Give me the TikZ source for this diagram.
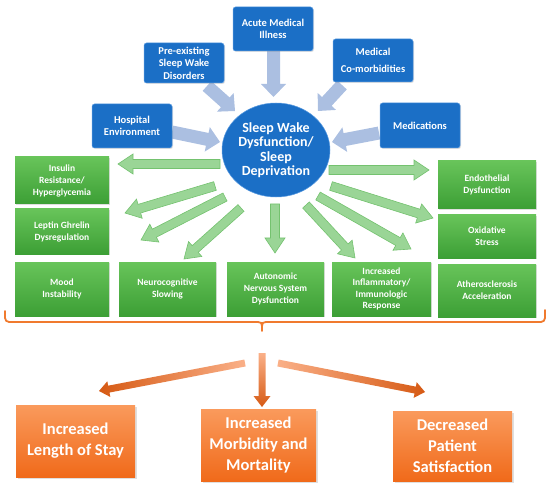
\documentclass[tikz,border=0pt]{standalone}
\usepackage{fontspec}
\setmainfont{Carlito}
\usetikzlibrary{calc,shapes.geometric,shadows}
\definecolor{cBlue}{HTML}{1B6FC6}
\definecolor{cBlueEdge}{HTML}{5A9BE0}
\definecolor{cBlueArr}{HTML}{ABBFE1}
\definecolor{cGreenTop}{HTML}{68C45A}
\definecolor{cGreenBot}{HTML}{3C9F35}
\definecolor{cGreenArr}{HTML}{9AD596}
\definecolor{cGreenArrEdge}{HTML}{74C26F}
\definecolor{cOrTop}{HTML}{FA9A5C}
\definecolor{cOrBot}{HTML}{F06A1A}
\definecolor{cBrace}{HTML}{F07A2E}
\definecolor{cOrArrLight}{HTML}{FAB088}
\definecolor{cOrArrDark}{HTML}{D65A14}
% #1 style, #2 start, #3 tip, #4 shaft half width, #5 head half width, #6 head length
\newcommand\fatarrow[6]{%
  \coordinate (fahb) at ($(#3)!#6!(#2)$);
  \path[#1] ($(#2)!#4!90:(#3)$) -- ($(fahb)!#4!90:(#3)$) -- ($(fahb)!#5!90:(#3)$) -- (#3)
    -- ($(fahb)!#5!-90:(#3)$) -- ($(fahb)!#4!-90:(#3)$) -- ($(#2)!#4!-90:(#3)$) -- cycle;
}
\begin{document}
\begin{tikzpicture}[x=1pt,y=-1pt,
  bluebox/.style={rectangle, rounded corners=2.5pt, fill=cBlue, draw=cBlueEdge, line width=0.5pt,
    text=white, font=\bfseries\fontsize{10.5}{12.5}\selectfont, align=center, inner sep=0pt,
    drop shadow={opacity=0.25, shadow xshift=1pt, shadow yshift=-1pt}},
  greenbox/.style={rectangle, top color=cGreenTop, bottom color=cGreenBot, draw=none,
    text=white, font=\bfseries\fontsize{9.5}{12}\selectfont, align=center, inner sep=0pt,
    drop shadow={opacity=0.25, shadow xshift=1pt, shadow yshift=-1pt}},
  orangebox/.style={rectangle, top color=cOrTop, bottom color=cOrBot, draw=none,
    text=white, font=\bfseries\fontsize{16.5}{21}\selectfont, align=center, inner sep=0pt,
    drop shadow={opacity=0.25, shadow xshift=1.5pt, shadow yshift=-1.5pt}},
  hub/.style={ellipse, fill=cBlue, draw=cBlueEdge, line width=0.5pt, text=white,
    font=\bfseries\fontsize{14}{14.5}\selectfont, align=center, inner sep=0pt},
  bluearrow/.style={fill=cBlueArr},
  greenarrow/.style={fill=cGreenArr, draw=cGreenArrEdge, line width=0.6pt},
  bracestyle/.style={draw=cBrace, line width=1.8pt, line cap=round}]
\useasboundingbox (0,0) rectangle (550,487);

% ---------- coordinates for arrows ----------
\coordinate (b1s) at (273.5,51);  \coordinate (b1t) at (273.5,97);
\coordinate (b2s) at (207,86);    \coordinate (b2t) at (235,111);
\coordinate (b3s) at (172,132);   \coordinate (b3t) at (220,142);
\coordinate (b4s) at (342,85);    \coordinate (b4t) at (318,111);
\coordinate (b5s) at (379,133);   \coordinate (b5t) at (332,142);

\coordinate (g1s) at (220,164);   \coordinate (g1t) at (118,164);
\coordinate (g2s) at (215,186);   \coordinate (g2t) at (125,213);
\coordinate (g3s) at (225,197);   \coordinate (g3t) at (141,240);
\coordinate (g4s) at (241,208);   \coordinate (g4t) at (184,259);
\coordinate (g5s) at (275,204);   \coordinate (g5t) at (275,253);
\coordinate (g6s) at (306,205);   \coordinate (g6t) at (355,258);
\coordinate (g7s) at (318,196);   \coordinate (g7t) at (411,249);
\coordinate (g8s) at (331,186);   \coordinate (g8t) at (433,218);
\coordinate (g9s) at (329,170);   \coordinate (g9t) at (429,170);

\coordinate (o1s) at (245,363);   \coordinate (o1t) at (99,391);
\coordinate (o2s) at (262,353);   \coordinate (o2t) at (262,407);
\coordinate (o3s) at (278,363);   \coordinate (o3t) at (425,392);

% ---------- arrows ----------
\fatarrow{bluearrow}{b1s}{b1t}{6.5pt}{12.5pt}{13pt}
\fatarrow{bluearrow}{b2s}{b2t}{6.5pt}{12.5pt}{13pt}
\fatarrow{bluearrow}{b3s}{b3t}{6.5pt}{12.5pt}{13pt}
\fatarrow{bluearrow}{b4s}{b4t}{6.5pt}{12.5pt}{13pt}
\fatarrow{bluearrow}{b5s}{b5t}{6.5pt}{12.5pt}{13pt}

\fatarrow{greenarrow}{g1s}{g1t}{4.5pt}{10pt}{15pt}
\fatarrow{greenarrow}{g2s}{g2t}{4.5pt}{10pt}{15pt}
\fatarrow{greenarrow}{g3s}{g3t}{4.5pt}{10pt}{15pt}
\fatarrow{greenarrow}{g4s}{g4t}{4.5pt}{10pt}{15pt}
\fatarrow{greenarrow}{g5s}{g5t}{4.5pt}{10pt}{15pt}
\fatarrow{greenarrow}{g6s}{g6t}{4.5pt}{10pt}{15pt}
\fatarrow{greenarrow}{g7s}{g7t}{4.5pt}{10pt}{15pt}
\fatarrow{greenarrow}{g8s}{g8t}{4.5pt}{10pt}{15pt}
\fatarrow{greenarrow}{g9s}{g9t}{4.5pt}{10pt}{15pt}

\fatarrow{left color=cOrArrDark, right color=cOrArrLight}{o1s}{o1t}{3.5pt}{8pt}{10pt}
\fatarrow{top color=cOrArrLight, bottom color=cOrArrDark}{o2s}{o2t}{3.5pt}{8.5pt}{11pt}
\fatarrow{left color=cOrArrLight, right color=cOrArrDark}{o3s}{o3t}{3.5pt}{8pt}{10pt}

% ---------- blue causes ----------
\node[bluebox, minimum width=80pt, minimum height=44pt] (acute) at (273,29) {Acute Medical\\Illness};
\node[bluebox, minimum width=80pt, minimum height=40pt] (pre) at (184,63) {Pre-existing\\Sleep Wake\\Disorders};
\node[bluebox, minimum width=80pt, minimum height=44pt] (hosp) at (132,126) {Hospital\\Environment};
\node[bluebox, minimum width=80pt, minimum height=43pt] (comorb) at (373,60.5) {Medical\\[4pt]Co-morbidities};
\node[bluebox, minimum width=80pt, minimum height=45pt] (meds) at (420,125.5) {Medications};

% ---------- hub ----------
\node[hub, minimum width=108pt, minimum height=94pt] (sleep) at (276,150) {Sleep Wake\\Dysfunction/\\Sleep\\Deprivation};

% ---------- green effects ----------
\node[greenbox, minimum width=94pt, minimum height=47pt] (insulin) at (62,180.5) {Insulin\\Resistance/\\Hyperglycemia};
\node[greenbox, minimum width=94pt, minimum height=45pt] (leptin) at (62,231.5) {Leptin Ghrelin\\Dysregulation};
\node[greenbox, minimum width=94pt, minimum height=54pt] (mood) at (62,289) {Mood\\Instability};
\node[greenbox, minimum width=97pt, minimum height=54pt] (neuro) at (167.5,289) {Neurocognitive\\Slowing};
\node[greenbox, minimum width=97pt, minimum height=54pt] (auto) at (275.5,289) {Autonomic\\Nervous System\\Dysfunction};
\node[greenbox, minimum width=99pt, minimum height=54pt, font=\bfseries\fontsize{9.5}{11.5}\selectfont] (inflam) at (381.5,289) {Increased\\Inflammatory/\\Immunologic\\Response};
\node[greenbox, minimum width=98pt, minimum height=48pt] (endo) at (487,185) {Endothelial\\Dysfunction};
\node[greenbox, minimum width=98pt, minimum height=43pt] (oxid) at (487,236.5) {Oxidative\\Stress};
\node[greenbox, minimum width=98pt, minimum height=53pt] (ather) at (487,290.5) {Atherosclerosis\\Acceleration};

% ---------- brace ----------
\draw[bracestyle, rounded corners=4pt] (5,311) -- (5,322) -- (258,322);
\draw[bracestyle] (258,322) .. controls (261,322) and (262,323) .. (262,326) -- (262,331);
\draw[bracestyle] (266,322) .. controls (263,322) and (262,323) .. (262,326);
\draw[bracestyle, rounded corners=4pt] (266,322) -- (545,322) -- (545,310);

% ---------- outcomes ----------
\node[orangebox, minimum width=119pt, minimum height=72pt] (los) at (75.5,441) {Increased\\Length of Stay};
\node[orangebox, minimum width=115pt, minimum height=72pt] (morb) at (258.5,445) {Increased\\Morbidity and\\Mortality};
\node[orangebox, minimum width=119pt, minimum height=70pt] (sat) at (452.5,446) {Decreased\\Patient\\Satisfaction};
\end{tikzpicture}
\end{document}
